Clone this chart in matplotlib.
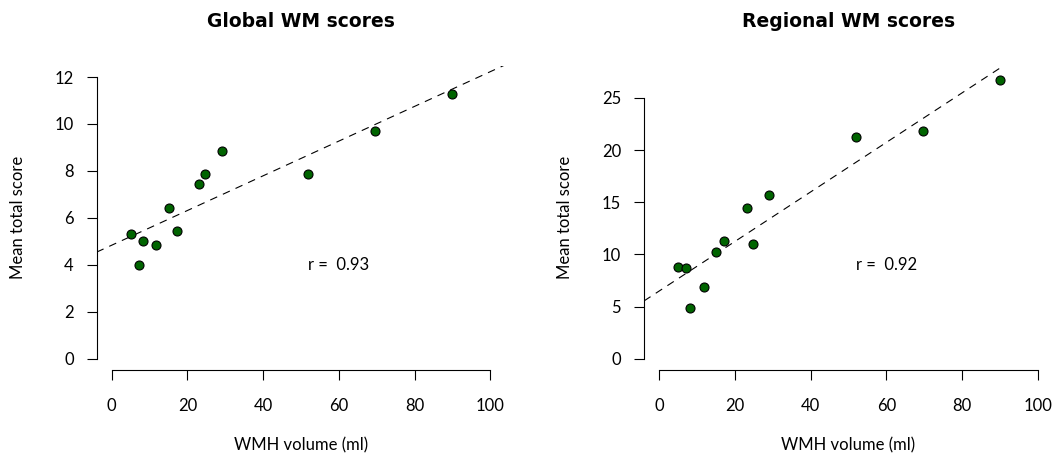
import numpy as np
import matplotlib
matplotlib.use("Agg")
import matplotlib.pyplot as plt

# WMH volume (ml) per subject, same for both panels
wmh = [5.0, 7.1, 8.2, 11.7, 15.1, 17.2, 23.1, 24.7, 29.0, 51.9, 69.6, 89.9]
global_score = [5.31, 4.01, 5.01, 4.86, 6.44, 5.45, 7.43, 7.86, 8.86, 7.86, 9.71, 11.29]
regional_score = [8.83, 8.67, 4.83, 6.84, 10.27, 11.26, 14.42, 10.97, 15.70, 21.27, 21.84, 26.71]

titles = ["Global WM scores", "Regional WM scores"]
r_labels = ["r =  0.93", "r =  0.92"]
r_pos = [(60, 4), (60, 9)]
y_max = [12, 27]
y_ticks = [[0, 2, 4, 6, 8, 10, 12], [0, 5, 10, 15, 20, 25]]
x_ticks = [0, 20, 40, 60, 80, 100]

plt.rcParams["font.family"] = ["Lato", "DejaVu Sans"]
plt.rcParams["lines.scale_dashes"] = False

fig = plt.figure(figsize=(10.57, 4.61), dpi=100)
lefts = [0.0914, 0.6094]

for i, score in enumerate([global_score, regional_score]):
    ax = fig.add_axes([lefts[i], 0.1974, 0.3868, 0.660])
    x = np.array(wmh)
    y = np.array(score)

    # R-style limits: data range plus 4% on each side
    xr = 100 * 0.04
    yr = y_max[i] * 0.04
    ax.set_xlim(-xr, 100 + xr)
    ax.set_ylim(-yr, y_max[i] + yr)

    # least-squares line across the whole plot region
    slope, icpt = np.polyfit(x, y, 1)
    xx = np.array([-xr, 100 + xr])
    ax.plot(xx, icpt + slope * xx, color="black", lw=0.8, dashes=(5.5, 4.5))

    ax.scatter(x, y, s=42, color="#006400", edgecolor="black", linewidth=0.8, zorder=3)

    ax.text(r_pos[i][0], r_pos[i][1], r_labels[i], ha="center", va="center", fontsize=12)

    for side in ["top", "right"]:
        ax.spines[side].set_visible(False)
    ax.spines["left"].set_bounds(0, y_ticks[i][-1])
    ax.spines["bottom"].set_bounds(0, 100)
    ax.spines["left"].set_linewidth(0.8)
    ax.spines["bottom"].set_linewidth(0.8)

    ax.set_xticks(x_ticks)
    ax.set_yticks(y_ticks[i])
    ax.tick_params(axis="both", direction="out", length=7.5, width=0.8, labelsize=12)
    ax.tick_params(axis="x", pad=13)
    ax.tick_params(axis="y", pad=9)

    ax.set_xlabel("WMH volume (ml)", fontsize=12, va="center")
    ax.xaxis.set_label_coords(0.5, -0.249)
    ax.set_ylabel("Mean total score", fontsize=12, va="center")
    ax.yaxis.set_label_coords(-0.193, 0.5)

    ax.set_title(titles[i], fontsize=13.5, fontweight="bold", family="DejaVu Sans",
                 y=1.145, pad=0, va="center")

fig.savefig("out.png", dpi=100)
